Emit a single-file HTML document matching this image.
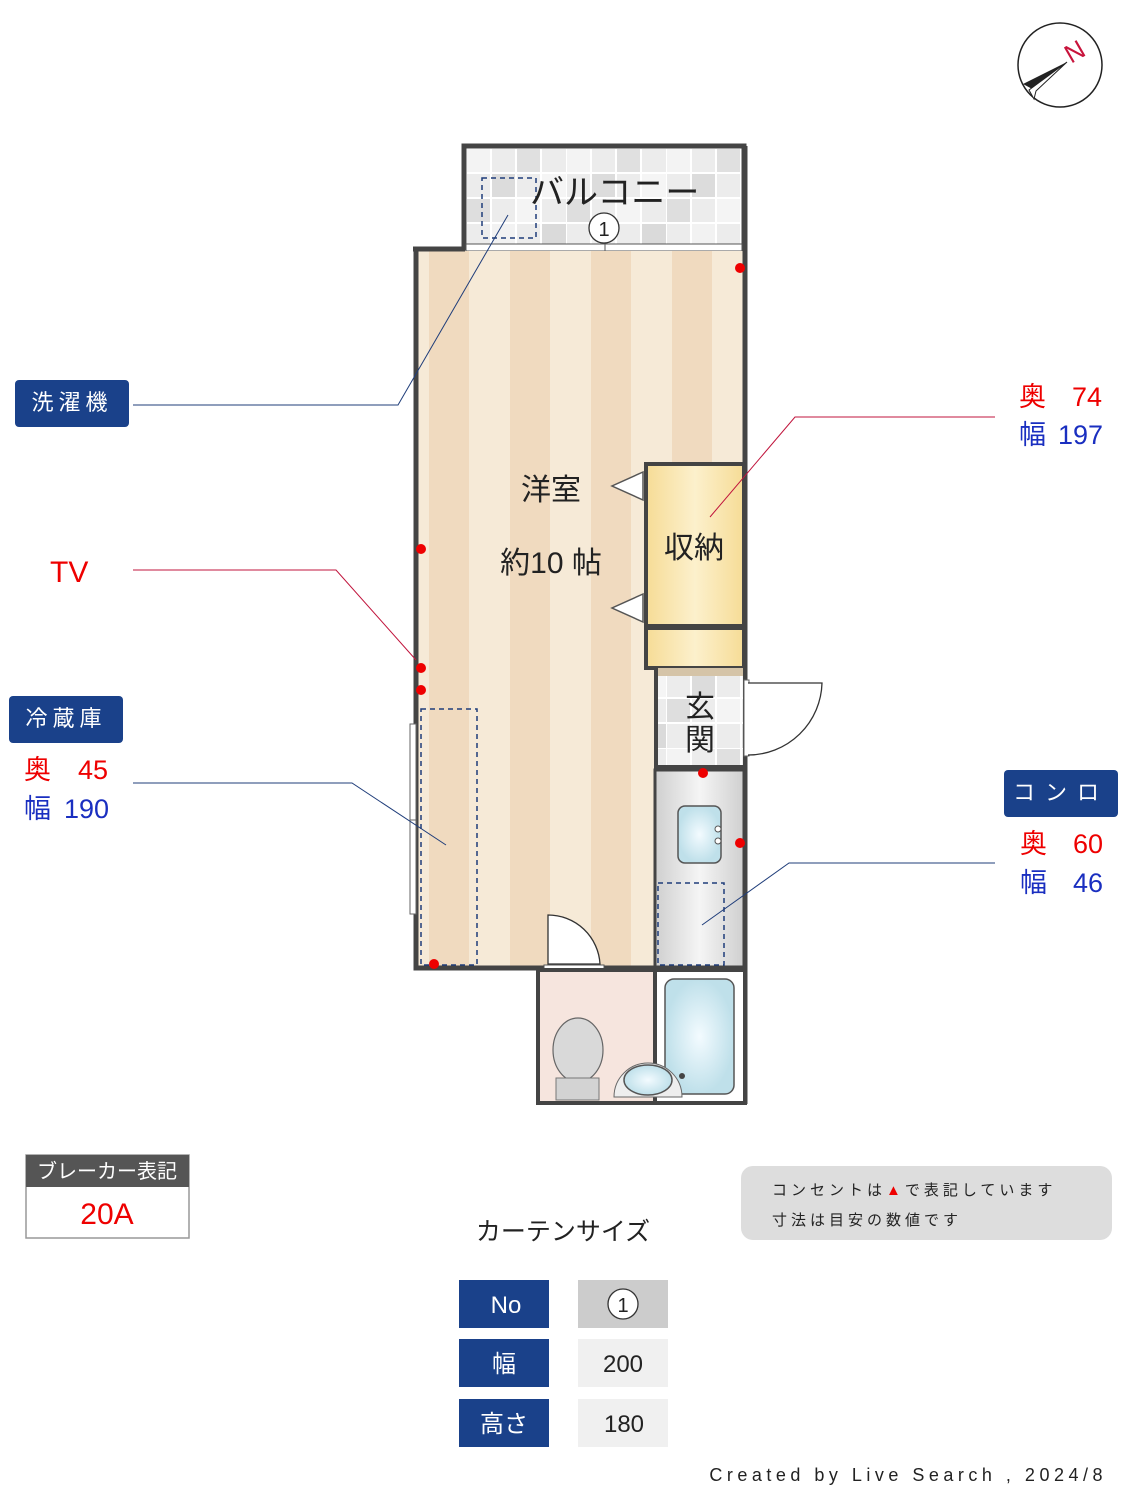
<!DOCTYPE html>
<html><head><meta charset="utf-8"><style>
html,body{margin:0;padding:0;background:#fff;}
svg{display:block;font-family:"Liberation Sans","Noto Sans CJK JP",sans-serif;}
</style></head><body>
<svg width="1125" height="1500" viewBox="0 0 1125 1500" xmlns="http://www.w3.org/2000/svg">
<defs>
<pattern id="tile" x="466" y="148" width="100" height="100" patternUnits="userSpaceOnUse">
<rect width="100" height="100" fill="#ececec"/>
<rect x="0" y="0" width="25" height="25" fill="#f3f3f3"/><rect x="50" y="0" width="25" height="25" fill="#e0e0e0"/>
<rect x="25" y="25" width="25" height="25" fill="#dcdcdc"/><rect x="75" y="25" width="25" height="25" fill="#f5f5f5"/>
<rect x="0" y="50" width="25" height="25" fill="#dedede"/><rect x="50" y="50" width="25" height="25" fill="#f4f4f4"/>
<rect x="25" y="75" width="25" height="25" fill="#f2f2f2"/><rect x="75" y="75" width="25" height="25" fill="#dadada"/>
<path d="M0 0H100M0 25H100M0 50H100M0 75H100M0 0V100M25 0V100M50 0V100M75 0V100" stroke="#fff" stroke-width="2"/>
</pattern>
<pattern id="stripe" x="418" y="0" width="81" height="10" patternUnits="userSpaceOnUse">
<rect width="81" height="10" fill="#f6ead7"/><rect x="11" width="40" height="10" fill="#f0dabf"/>
</pattern>
<linearGradient id="kit" x1="0" x2="1"><stop offset="0" stop-color="#cfcfcf"/><stop offset="0.5" stop-color="#f5f5f5"/><stop offset="1" stop-color="#cfcfcf"/></linearGradient>
<radialGradient id="blue"><stop offset="0" stop-color="#f3fbff"/><stop offset="1" stop-color="#bfe0ea"/></radialGradient>
<linearGradient id="yel" x1="0" x2="1"><stop offset="0" stop-color="#f6dc96"/><stop offset="0.5" stop-color="#fcf0cc"/><stop offset="1" stop-color="#f6dc96"/></linearGradient>
</defs>

<!-- compass -->
<circle cx="1060" cy="65" r="42" fill="#fff" stroke="#222" stroke-width="1.5"/>
<polygon points="1067,62 1023,84 1036,91" fill="#222"/>
<polygon points="1067,62 1036,91 1034,99 1029,90" fill="#fff" stroke="#222" stroke-width="1"/>
<text x="1071" y="64" font-size="26" fill="#c8143c" transform="rotate(-30 1071 64)">N</text>

<!-- balcony -->
<rect x="464" y="146" width="280" height="102" fill="url(#tile)" stroke="#444" stroke-width="5"/>
<rect x="466" y="244" width="276" height="7" fill="#fff" stroke="#555" stroke-width="1"/>
<line x1="605" y1="244" x2="605" y2="251" stroke="#555"/>
<rect x="482" y="178" width="54" height="60" fill="none" stroke="#1f3d7a" stroke-width="1.5" stroke-dasharray="5,4"/>
<text x="530" y="204" font-size="34" fill="#222">バルコニー</text>
<circle cx="604" cy="228" r="15" fill="#fff" stroke="#333" stroke-width="1.3"/>
<text x="604" y="236" font-size="20" text-anchor="middle" fill="#222">1</text>

<!-- main room -->
<rect x="418" y="251" width="326" height="716" fill="url(#stripe)"/>
<path d="M416 248V968H537" fill="none" stroke="#444" stroke-width="5"/>
<path d="M413 249H465" stroke="#444" stroke-width="5"/>
<path d="M745 146V1104" stroke="#444" stroke-width="5"/>
<path d="M416 968H745" stroke="#444" stroke-width="5"/>
<rect x="410" y="724" width="6" height="190" fill="#fff" stroke="#666" stroke-width="1"/>
<line x1="410" y1="820" x2="416" y2="820" stroke="#666"/>
<rect x="421" y="709" width="56" height="256" fill="none" stroke="#1f3d7a" stroke-width="1.5" stroke-dasharray="5,4"/>

<!-- storage -->
<rect x="646" y="464" width="98" height="162" fill="url(#yel)" stroke="#444" stroke-width="4"/>
<rect x="646" y="628" width="98" height="40" fill="url(#yel)" stroke="#444" stroke-width="4"/>
<polygon points="643,472 612,486 643,500" fill="#fff" stroke="#555" stroke-width="1.5"/>
<polygon points="643,594 612,608 643,622" fill="#fff" stroke="#555" stroke-width="1.5"/>
<text x="694" y="558" font-size="30" text-anchor="middle" fill="#222">収納</text>

<!-- genkan -->
<rect x="656" y="669" width="89" height="98" fill="url(#tile)" stroke="#444" stroke-width="4"/>
<rect x="658" y="668" width="85" height="8" fill="#d5c4a8"/>
<text x="700" y="717" font-size="30" text-anchor="middle" fill="#222">玄</text>
<text x="700" y="750" font-size="30" text-anchor="middle" fill="#222">関</text>
<rect x="744" y="680" width="5" height="76" fill="#fff" stroke="#666" stroke-width="1"/>
<path d="M748 755 A74 74 0 0 0 822 683 H748" fill="#fff" stroke="#333" stroke-width="1.3"/>

<!-- kitchen -->
<rect x="655" y="770" width="89" height="197" fill="url(#kit)" stroke="#444" stroke-width="3"/>
<rect x="678" y="806" width="43" height="57" rx="7" fill="url(#blue)" stroke="#555" stroke-width="1.5"/>
<circle cx="718" cy="829" r="3" fill="#fff" stroke="#555"/><circle cx="718" cy="841" r="3" fill="#fff" stroke="#555"/>
<rect x="658" y="883" width="66" height="82" fill="none" stroke="#1f3d7a" stroke-width="1.5" stroke-dasharray="5,4"/>

<!-- door to bath -->
<path d="M548 964V915 A52 52 0 0 1 600 964Z" fill="#fff" stroke="#333" stroke-width="1.3"/>
<rect x="544" y="965" width="60" height="5" fill="#fff" stroke="#555" stroke-width="1"/>

<!-- toilet/bath -->
<rect x="538" y="970" width="117" height="133" fill="#f6e5de" stroke="#444" stroke-width="4"/>
<rect x="655" y="970" width="90" height="133" fill="#fff" stroke="#444" stroke-width="4"/>
<rect x="665" y="979" width="69" height="115" rx="9" fill="url(#blue)" stroke="#555" stroke-width="1.5"/>
<ellipse cx="578" cy="1050" rx="25" ry="32" fill="#d9d9d9" stroke="#666" stroke-width="1.2"/>
<rect x="556" y="1078" width="43" height="22" fill="#d3d3d3" stroke="#777"/>
<path d="M614 1097 A34 34 0 0 1 682 1097Z" fill="#eee" stroke="#666"/>
<ellipse cx="648" cy="1080" rx="24" ry="15" fill="url(#blue)" stroke="#555" stroke-width="1.5"/>
<circle cx="682" cy="1076" r="3" fill="#444"/>

<!-- outlets -->
<g fill="#e00">
<circle cx="740" cy="268" r="5"/><circle cx="421" cy="549" r="5"/><circle cx="421" cy="668" r="5"/><circle cx="421" cy="690" r="5"/>
<circle cx="434" cy="964" r="5"/><circle cx="703" cy="773" r="5"/><circle cx="740" cy="843" r="5"/>
</g>

<text x="551" y="500" font-size="30" text-anchor="middle" fill="#222">洋室</text>
<text x="551" y="573" font-size="30" text-anchor="middle" fill="#222">約10 帖</text>

<!-- leader lines -->
<polyline points="133,405 398,405 508,215" fill="none" stroke="#1f3d7a" stroke-width="1"/>
<polyline points="133,570 336,570 416,660" fill="none" stroke="#c0143c" stroke-width="1"/>
<polyline points="133,783 352,783 446,845" fill="none" stroke="#1f3d7a" stroke-width="1"/>
<polyline points="995,417 795,417 710,517" fill="none" stroke="#c0143c" stroke-width="1"/>
<polyline points="995,863 789,863 702,925" fill="none" stroke="#1f3d7a" stroke-width="1"/>

<!-- left labels -->
<rect x="15" y="380" width="114" height="47" rx="4" fill="#1a418a"/>
<text x="72" y="410" font-size="22" text-anchor="middle" fill="#fff" letter-spacing="5">洗濯機</text>
<text x="50" y="582" font-size="30" fill="#e00">TV</text>
<rect x="9" y="696" width="114" height="47" rx="4" fill="#1a418a"/>
<text x="66" y="726" font-size="22" text-anchor="middle" fill="#fff" letter-spacing="5">冷蔵庫</text>
<text x="24" y="779" font-size="27" fill="#e00">奥</text><text x="78" y="779" font-size="27" fill="#e00">45</text>
<text x="24" y="818" font-size="27" fill="#1a2fc0">幅</text><text x="64" y="818" font-size="27" fill="#1a2fc0">190</text>

<!-- right labels -->
<text x="1019" y="406" font-size="27" fill="#e00">奥</text><text x="1072" y="406" font-size="27" fill="#e00">74</text>
<text x="1019" y="444" font-size="27" fill="#1a2fc0">幅</text><text x="1058" y="444" font-size="27" fill="#1a2fc0">197</text>
<rect x="1004" y="770" width="114" height="47" rx="4" fill="#1a418a"/>
<text x="1061" y="800" font-size="22" text-anchor="middle" fill="#fff" letter-spacing="10">コンロ</text>
<text x="1020" y="853" font-size="27" fill="#e00">奥</text><text x="1073" y="853" font-size="27" fill="#e00">60</text>
<text x="1020" y="892" font-size="27" fill="#1a2fc0">幅</text><text x="1073" y="892" font-size="27" fill="#1a2fc0">46</text>

<!-- breaker -->
<rect x="26" y="1155" width="163" height="83" fill="#fff" stroke="#999" stroke-width="1.5"/>
<rect x="26" y="1155" width="163" height="32" fill="#555"/>
<text x="107" y="1178" font-size="20" text-anchor="middle" fill="#fff">ブレーカー表記</text>
<text x="107" y="1224" font-size="30" text-anchor="middle" fill="#e00">20A</text>

<!-- note -->
<rect x="741" y="1166" width="371" height="74" rx="12" fill="#ddd"/>
<text x="772" y="1195" font-size="15" fill="#222" letter-spacing="4">コンセントは<tspan fill="#e00">▲</tspan>で表記しています</text>
<text x="772" y="1225" font-size="15" fill="#222" letter-spacing="4">寸法は目安の数値です</text>

<!-- curtain -->
<text x="563" y="1240" font-size="25" text-anchor="middle" fill="#222">カーテンサイズ</text>
<rect x="459" y="1280" width="90" height="48" fill="#1a418a"/>
<rect x="459" y="1339" width="90" height="48" fill="#1a418a"/>
<rect x="459" y="1399" width="90" height="48" fill="#1a418a"/>
<rect x="578" y="1280" width="90" height="48" fill="#ccc"/>
<rect x="578" y="1339" width="90" height="48" fill="#f0f0f0"/>
<rect x="578" y="1399" width="90" height="48" fill="#f0f0f0"/>
<text x="506" y="1313" font-size="24" text-anchor="middle" fill="#fff">No</text>
<text x="504" y="1372" font-size="24" text-anchor="middle" fill="#fff">幅</text>
<text x="504" y="1432" font-size="24" text-anchor="middle" fill="#fff">高さ</text>
<circle cx="623" cy="1304" r="15" fill="#fff" stroke="#333" stroke-width="1.3"/>
<text x="623" y="1312" font-size="20" text-anchor="middle" fill="#222">1</text>
<text x="623" y="1372" font-size="24" text-anchor="middle" fill="#222">200</text>
<text x="624" y="1432" font-size="24" text-anchor="middle" fill="#222">180</text>

<text x="1107" y="1481" font-size="18" text-anchor="end" fill="#222" letter-spacing="4.5">Created by Live Search , 2024/8</text>
</svg>
</body></html>
